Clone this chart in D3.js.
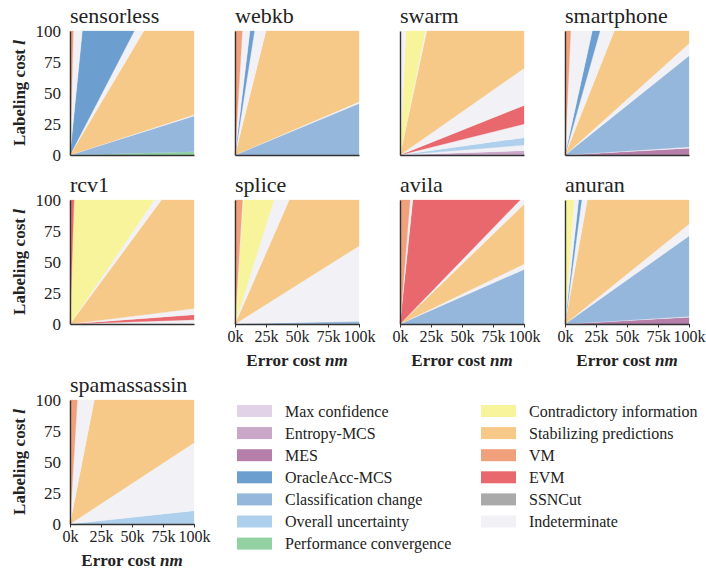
<!DOCTYPE html>
<html>
<head>
<meta charset="utf-8">
<script src="https://cdn.jsdelivr.net/npm/d3@7"></script>
<style>
  body { margin: 0; background: #fff; }
</style>
</head>
<body>
<div id="chart"></div>
<script>
// strategy names and colours (legend order)
var strategies = ['Max confidence', 'Entropy-MCS', 'MES', 'OracleAcc-MCS', 'Classification change',
    'Overall uncertainty', 'Performance convergence', 'Contradictory information',
    'Stabilizing predictions', 'VM', 'EVM', 'SSNCut', 'Indeterminate'];
var strategyColors = ['#e1d2e7', '#caa6c9', '#b67fa9', '#6c9fcf', '#96b7dc',
    '#afd0ec', '#92d1a1', '#f8f49b', '#f7c988', '#f0a07a', '#e9686d', '#aaaaaa', '#f1f1f6'];

var datasets = ['sensorless', 'webkb', 'swarm', 'smartphone', 'rcv1', 'splice', 'avila', 'anuran', 'spamassassin'];

// ticks
var xTicks = [0, 25, 50, 75, 100];   // error cost nm, in thousands
var yTicks = [0, 25, 50, 75, 100];   // labeling cost l

// regions per dataset, bottom to top; upper bound is the cost ratio l / (nm / 1000)
var sensorlessRegions = ['Performance convergence', 'Classification change', 'Indeterminate', 'Stabilizing predictions', 'Indeterminate', 'OracleAcc-MCS', 'Indeterminate', 'VM'];
var sensorlessUpper = [0.027, 0.315, 0.325, 1.68, 1.93, 10.1, 37, Infinity];

var webkbRegions = ['Classification change', 'Indeterminate', 'Stabilizing predictions', 'Indeterminate', 'OracleAcc-MCS', 'Indeterminate', 'VM'];
var webkbUpper = [0.415, 0.43, 4.0, 6.4, 8.3, 17, Infinity];

var swarmRegions = ['Entropy-MCS', 'Indeterminate', 'Overall uncertainty', 'Indeterminate', 'EVM', 'Indeterminate', 'Stabilizing predictions', 'Indeterminate', 'Contradictory information', 'Indeterminate'];
var swarmUpper = [0.035, 0.08, 0.14, 0.25, 0.4, 0.7, 4.65, 4.9, 20.7, Infinity];

var smartphoneRegions = ['MES', 'Indeterminate', 'Classification change', 'Indeterminate', 'Stabilizing predictions', 'Indeterminate', 'OracleAcc-MCS', 'Indeterminate', 'VM'];
var smartphoneUpper = [0.055, 0.065, 0.8, 0.9, 2.52, 3.55, 4.55, 21.8, Infinity];

var rcv1Regions = ['Indeterminate', 'EVM', 'Indeterminate', 'Stabilizing predictions', 'Indeterminate', 'Contradictory information', 'EVM'];
var rcv1Upper = [0.035, 0.075, 0.124, 1.357, 1.47, 31, Infinity];

var spliceRegions = ['Classification change', 'Indeterminate', 'Stabilizing predictions', 'Indeterminate', 'Contradictory information', 'Indeterminate', 'VM'];
var spliceUpper = [0.022, 0.63, 2.29, 3.19, 14.9, 16.5, Infinity];

var avilaRegions = ['Classification change', 'Indeterminate', 'Stabilizing predictions', 'Indeterminate', 'EVM', 'Indeterminate', 'VM'];
var avilaUpper = [0.44, 0.484, 0.965, 1.033, 9.7, 12.3, Infinity];

var anuranRegions = ['MES', 'Indeterminate', 'Classification change', 'Indeterminate', 'Stabilizing predictions', 'Indeterminate', 'OracleAcc-MCS', 'Indeterminate', 'Contradictory information'];
var anuranUpper = [0.055, 0.06, 0.71, 0.806, 5.56, 7.46, 9.1, 13.9, Infinity];

var spamassassinRegions = ['Overall uncertainty', 'Indeterminate', 'Stabilizing predictions', 'Indeterminate', 'VM'];
var spamassassinUpper = [0.107, 0.656, 5.1, 17, Infinity];

var panelRegions = [sensorlessRegions, webkbRegions, swarmRegions, smartphoneRegions, rcv1Regions, spliceRegions, avilaRegions, anuranRegions, spamassassinRegions];
var panelUpper = [sensorlessUpper, webkbUpper, swarmUpper, smartphoneUpper, rcv1Upper, spliceUpper, avilaUpper, anuranUpper, spamassassinUpper];

var svgWidth = 706,
    svgHeight = 569;
var serif = "'Liberation Serif', 'DejaVu Serif', serif";

// layout of the small multiples
var colLeft = [70, 235, 400, 565],
    rowTop = [31, 200, 400];
var plotW = 124,
    plotH = 124;

var svg = d3.select('#chart')
    .append('svg')
    .attr('width', svgWidth)
    .attr('height', svgHeight)
    .attr('font-family', serif);

var color = d3.scaleOrdinal().domain(strategies).range(strategyColors);

var x = d3.scaleLinear().domain([0, 100]).range([0, plotW]);
var y = d3.scaleLinear().domain([0, 100]).range([plotH, 0]);

// point where a ray of ratio r leaves the square
function rayEnd(r) {
    if (r === Infinity) return [0, 100];
    if (r * 100 <= 100) return [100, r * 100];
    return [100 / r, 100];
}

function wedge(lo, hi) {
    var pts = [[0, 0], rayEnd(lo)];
    if (lo < 1 && hi > 1) pts.push([100, 100]);
    pts.push(rayEnd(hi));
    return pts.map(function(p) { return [x(p[0]), y(p[1])]; });
}

var line = d3.line();

datasets.forEach(function(name, i) {
    var col = i % 4,
        row = Math.floor(i / 4);
    var g = svg.append('g')
        .attr('transform', 'translate(' + colLeft[col] + ',' + rowTop[row] + ')');

    var regions = panelRegions[i],
        upper = panelUpper[i];
    var shapes = regions.map(function(s, j) {
        return { strategy: s, lo: j === 0 ? 0 : upper[j - 1], hi: upper[j] };
    });

    g.selectAll('path.wedge')
        .data(shapes)
        .enter()
        .append('path')
        .classed('wedge', true)
        .attr('d', function(d) { return line(wedge(d.lo, d.hi)) + 'Z'; })
        .attr('fill', function(d) { return color(d.strategy); })
        .attr('stroke', function(d) { return color(d.strategy); })
        .attr('stroke-width', 0.3);

    // title
    g.append('text')
        .attr('x', 0)
        .attr('y', -8)
        .attr('font-family', serif)
        .attr('fill', '#222')
        .style('font-size', '22px')
        .text(name);

    // y axis with labels only in first column
    var yAxis = d3.axisLeft(y)
        .tickValues(yTicks)
        .tickSize(0)
        .tickPadding(9);
    var ya = g.append('g').call(yAxis).attr('font-family', serif);
    if (col !== 0) ya.selectAll('.tick').remove();
    ya.selectAll('.tick text').style('font-size', '17px').attr('fill', '#222');

    // x axis labels only on the lowest panel in each column
    var showX = (row === 1 && col > 0) || row === 2;
    var xAxis = d3.axisBottom(x)
        .tickValues(xTicks)
        .tickSize(3.5)
        .tickSizeOuter(0)
        .tickPadding(3)
        .tickFormat(function(d) { return d + 'k'; });
    var xa = g.append('g')
        .attr('transform', 'translate(0,' + plotH + ')')
        .call(xAxis)
        .attr('font-family', serif);
    if (!showX) xa.selectAll('.tick').remove();
    xa.selectAll('.tick text').style('font-size', '16px').attr('fill', '#222');
    xa.selectAll('.tick line').attr('stroke', '#333');

    g.selectAll('.domain').attr('stroke', '#333').attr('stroke-width', 1.4);

    if (col === 0) {
        var yl = g.append('text')
            .attr('transform', 'translate(' + (-51) + ',' + (plotH / 2) + ') rotate(-90)')
            .attr('text-anchor', 'middle')
            .attr('dominant-baseline', 'central')
            .attr('font-family', serif)
            .attr('fill', '#222')
            .style('font-size', '17px')
            .style('font-weight', 'bold');
        yl.append('tspan').text('Labeling cost ');
        yl.append('tspan').style('font-style', 'italic').text('l');
    }
    if (showX) {
        var xl = g.append('text')
            .attr('x', plotW / 2)
            .attr('y', plotH + 42)
            .attr('text-anchor', 'middle')
            .attr('font-family', serif)
            .attr('fill', '#222')
            .style('font-size', '17px')
            .style('font-weight', 'bold');
        xl.append('tspan').text('Error cost ');
        xl.append('tspan').style('font-style', 'italic').text('nm');
    }
});

// legend, two columns
var legendCols = [{ x: 237, items: strategies.slice(0, 7) }, { x: 481, items: strategies.slice(7) }];
var legendTop = 411,
    legendStep = 22.1;
legendCols.forEach(function(c) {
    var lg = svg.append('g').attr('transform', 'translate(' + c.x + ',' + legendTop + ')');
    var items = lg.selectAll('g')
        .data(c.items)
        .enter()
        .append('g')
        .attr('transform', function(d, i) { return 'translate(0,' + (i * legendStep) + ')'; });
    items.append('rect')
        .attr('x', 0)
        .attr('y', -6)
        .attr('width', 35)
        .attr('height', 12)
        .attr('fill', function(d) { return color(d); });
    items.append('text')
        .attr('x', 48)
        .attr('y', 0)
        .attr('dominant-baseline', 'central')
        .attr('font-family', serif)
        .attr('fill', '#222')
        .style('font-size', '16px')
        .text(function(d) { return d; });
});
</script>
</body>
</html>
